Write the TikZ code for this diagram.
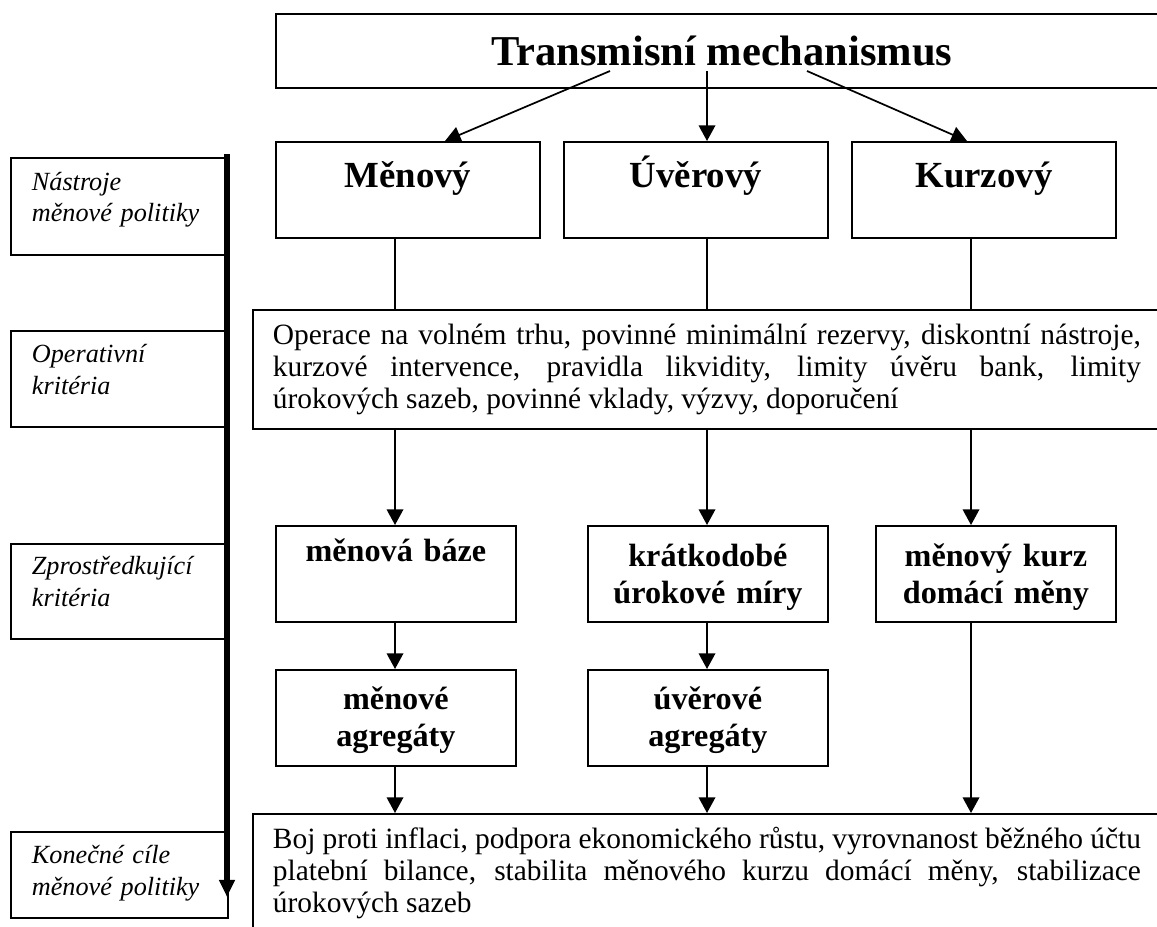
\documentclass[tikz,border=0pt]{standalone}
\usepackage{fontspec}
\setmainfont{Liberation Serif}
\usetikzlibrary{arrows.meta}
\tolerance=10000
\hyphenpenalty=10000
\tikzstyle{every node}=[draw=black,line width=0.8pt,anchor=north west,inner sep=0pt]
\tikzstyle{title}=[minimum width=387.8pt,minimum height=32.2pt,font=\fontsize{18.5}{22}\selectfont\bfseries]
\tikzstyle{chan}=[minimum width=114.8pt,minimum height=41.7pt,font=\fontsize{16}{19}\selectfont\bfseries,text height=11pt,text depth=13.5pt]
\tikzstyle{crit}=[text width=104.35pt,minimum height=41.7pt,align=center,font=\fontsize{14}{16}\selectfont\bfseries,text height=10pt,text depth=16pt]
\tikzstyle{wide}=[text width=377.4pt,inner xsep=8.7pt,minimum height=51.7pt,align=justify,font=\fontsize{12.8}{13.9}\selectfont]
\tikzstyle{level}=[text width=76.1pt,inner xsep=9.13pt,align=left,font=\fontsize{11.4}{13.9}\selectfont\itshape,text height=8.5pt,text depth=22.8pt]
\tikzstyle{arr}=[line width=0.75pt,-{Triangle[length=6.8pt,width=7.2pt]}]
\tikzstyle{con}=[line width=0.75pt]
\tikzstyle{bar}=[line width=2.6pt,-{Triangle[length=7.4pt,width=6.5pt]}]

\begin{document}
\begin{tikzpicture}[x=0.4348pt,y=-0.4348pt]
  \path[use as bounding box,clip] (0,0) rectangle (1157,926);
  \coordinate (c1) at (395,0);
  \coordinate (c2) at (707,0);
  \coordinate (c3) at (971,0);
  \coordinate (e1) at (445,0);
  \coordinate (e3) at (967,0);
  \coordinate (s1) at (610,71);
  \coordinate (s2) at (707,71);
  \coordinate (s3) at (807,71);
  \coordinate (b0) at (227,154);
  \coordinate (b1) at (227,897);

  \node[title] (tm) at (275,13) {Transmisní mechanismus};
  \node[chan] (men) at (275,141) {Měnový};
  \node[chan] (uve) at (563,141) {Úvěrový};
  \node[chan] (kur) at (851,141) {Kurzový};
  \node[wide] (ope) at (252,309) {Operace na volném trhu, povinné minimální rezervy, diskontní nástroje,\linebreak
    kurzové intervence, pravidla likvidity, limity úvěru bank, limity\linebreak
    úrokových sazeb, povinné vklady, výzvy, doporučení};
  \node[crit,text depth=20.4pt] (mb) at (275,525) {měnová báze};
  \node[crit] (kr) at (587,525) {krátkodobé\\úrokové míry};
  \node[crit] (kz) at (875,525) {měnový kurz\\domácí měny};
  \node[crit,text depth=17pt] (ma) at (275,669) {měnové\\agregáty};
  \node[crit,text depth=17pt] (ua) at (587,669) {úvěrové\\agregáty};
  \node[wide] (cil) at (252,813) {Boj proti inflaci, podpora ekonomického růstu, vyrovnanost běžného účtu\linebreak
    platební bilance, stabilita měnového kurzu domácí měny, stabilizace\linebreak
    úrokových sazeb};

  \node[level,minimum height=42.2pt] (l1) at (10,157) {Nástroje\\měnové politiky};
  \node[level,minimum height=41.7pt] (l2) at (10,330) {Operativní\\kritéria};
  \node[level,minimum height=41.3pt] (l3) at (10,543) {Zprostředkující\\kritéria};
  \node[level,minimum height=37.4pt,text depth=18.1pt] (l4) at (10,831) {Konečné cíle\\měnové politiky};

  \draw[arr] (s1) -- (men.north -| e1);
  \draw[arr] (s2) -- (uve.north -| c2);
  \draw[arr] (s3) -- (kur.north -| e3);
  \draw[con] (men.south -| c1) -- (ope.north -| c1);
  \draw[con] (uve.south -| c2) -- (ope.north -| c2);
  \draw[con] (kur.south -| c3) -- (ope.north -| c3);
  \draw[arr] (ope.south -| c1) -- (mb.north -| c1);
  \draw[arr] (ope.south -| c2) -- (kr.north -| c2);
  \draw[arr] (ope.south -| c3) -- (kz.north -| c3);
  \draw[arr] (mb.south -| c1) -- (ma.north -| c1);
  \draw[arr] (kr.south -| c2) -- (ua.north -| c2);
  \draw[arr] (ma.south -| c1) -- (cil.north -| c1);
  \draw[arr] (ua.south -| c2) -- (cil.north -| c2);
  \draw[arr] (kz.south -| c3) -- (cil.north -| c3);
  \draw[bar] (b0) -- (b1);
\end{tikzpicture}
\end{document}
